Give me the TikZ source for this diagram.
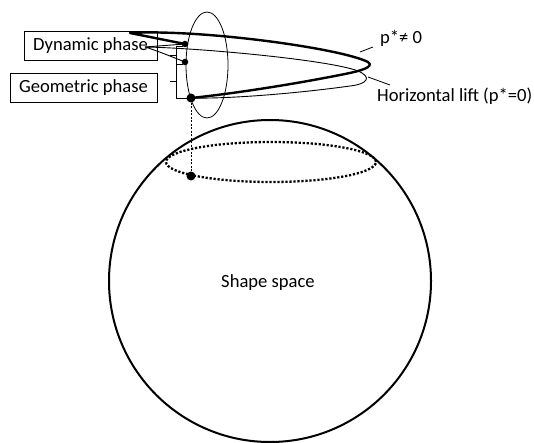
\documentclass[tikz,border=0pt]{standalone}
\usepackage{fontspec}
\setmainfont{Carlito}
\begin{document}
\begin{tikzpicture}[x=1pt,y=-1pt,
  lbl/.style={font=\fontsize{18.6}{22}\selectfont, inner sep=0pt},
  boxlbl/.style={lbl, draw, line width=0.8pt, minimum height=29pt, inner xsep=0pt},
  dotsm/.style={circle, fill=black, inner sep=0pt, minimum size=6.5pt},
  dotlg/.style={circle, fill=black, inner sep=0pt, minimum size=9pt},
  thickpath/.style={line width=2.4pt, line join=round, line cap=round},
  thinpath/.style={line width=0.9pt, line join=round},
  leader/.style={line width=0.8pt}]
\useasboundingbox (0,0) rectangle (534,443);

% shape space sphere
\draw[line width=2pt] (270,281) circle [radius=161pt];
\draw[line width=2.3pt, dash pattern=on 2.2pt off 1.8pt] (271,162) ellipse [x radius=105pt, y radius=20pt];
\node[lbl] (shape) at (268,283) {Shape space};

% fibre ellipse
\draw[line width=0.8pt] (207,65) ellipse [x radius=21pt, y radius=53pt];

% dots
\node[dotsm] (top) at (185,44) {};
\node[dotsm] (mid) at (185,62) {};
\node[dotlg] (bot) at (191,98) {};
\node[dotlg] (base) at (191,176) {};
\coordinate (ltip) at (130,33);
\coordinate (htip) at (145,47);

% thick path p* != 0
\draw[thickpath] (top.center) .. controls (165,40) and (140,35) .. (ltip)
  .. controls (200,29) and (340,48) .. (368,62)
  .. controls (375,67) and (360,71) .. (345,74)
  .. controls (290,85) and (230,94) .. (bot.center);

% horizontal lift
\draw[thinpath] (mid.center) .. controls (170,56) and (155,50) .. (htip)
  .. controls (200,48) and (330,60) .. (358,71)
  .. controls (372,77) and (368,84) .. (350,86)
  .. controls (300,93) and (230,99) .. (bot.center);
\draw[thinpath] (htip) -- (top.center);

% projection
\draw[line width=0.8pt, dash pattern=on 2pt off 1.5pt] (bot) -- (base);

% brackets
\coordinate (b0) at (176,46);
\coordinate (b1) at (176,64);
\coordinate (b2) at (176,98);
\draw[line width=0.8pt] (183,46) -- (b0) -- (b2) -- (188,98);
\draw[line width=0.8pt] (b1) -- (183,64);
\draw[line width=0.8pt] (176,55) -- (170,55);
\draw[line width=0.8pt] (176,81) -- (170,81);

% labels
\node[boxlbl, minimum width=133pt] (dyn) at (90.5,46) {Dynamic phase};
\node[boxlbl, minimum width=147pt] (geo) at (83.5,87.5) {Geometric phase};
\node[lbl, anchor=west] (pne) at (380,38) {p*≠ 0};
\node[lbl, anchor=west] (hl) at (377,96) {Horizontal lift (p*=0)};
\coordinate (pl1) at (360,52);
\coordinate (pl2) at (373,47);
\draw[leader] (pl1) -- (pl2);
\coordinate (hl1) at (368,77);
\coordinate (hl2) at (390,85);
\draw[leader] (hl1) -- (hl2);
\end{tikzpicture}
\end{document}
